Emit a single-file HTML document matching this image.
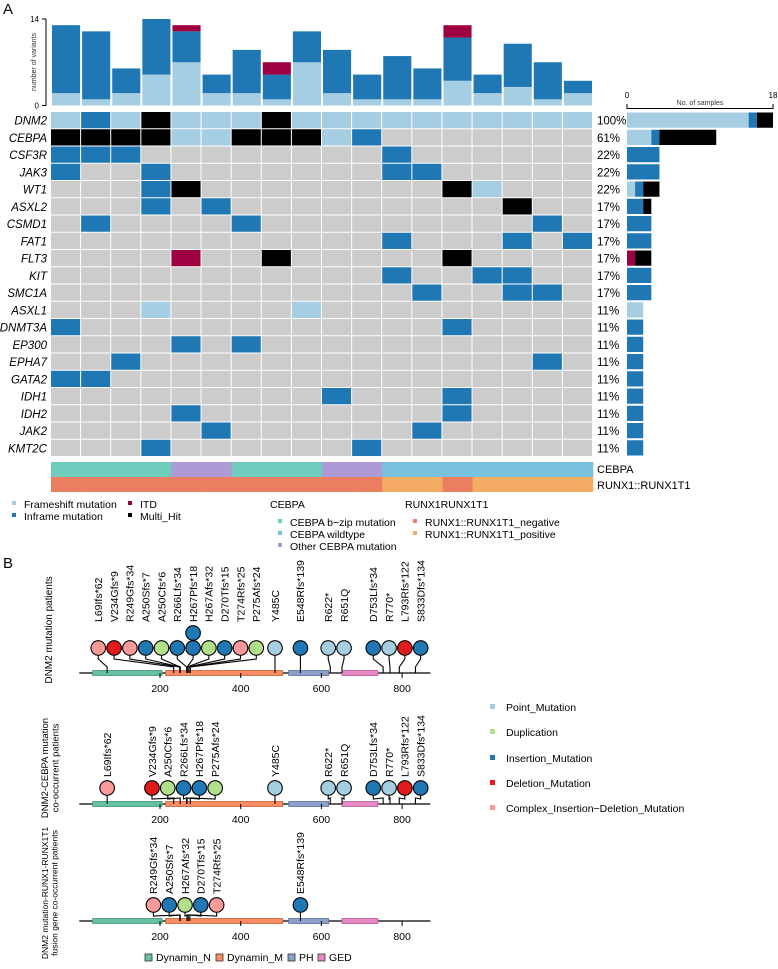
<!DOCTYPE html>
<html><head><meta charset="utf-8"><style>
html,body{margin:0;padding:0;background:#fff}
svg{display:block;font-family:"Liberation Sans",Arial,sans-serif}
</style></head><body>
<svg id="fig" width="778" height="969" viewBox="0 0 778 969" xmlns="http://www.w3.org/2000/svg">
<text x="3" y="14" font-size="15">A</text>
<text x="3" y="568" font-size="15">B</text>
<g id="topbars"></g>
<g id="grid"></g>
<g id="side"></g>
<g id="annot"></g>
<g id="legA"></g>
<g id="lolli"></g>
<g id="legB"></g>
</svg>
<script>
// ---- Oncoprint data ----
const genes = ["DNM2","CEBPA","CSF3R","JAK3","WT1","ASXL2","CSMD1","FAT1","FLT3","KIT","SMC1A","ASXL1","DNMT3A","EP300","EPHA7","GATA2","IDH1","IDH2","JAK2","KMT2C"];
// F=frameshift, I=inframe, T=ITD, M=multi_hit, .=none ; 18 samples
const gridRows = [
"FIFMFFFMFFFFFFFFFF",
"MMMMFFMMMFI.......",
"III........I......",
"I..I.......II.....",
"...IM........MF...",
"...I.I.........M..",
".I....I.........I.",
"...........I...I.I",
"....T..M.....M....",
"...........I..II..",
"............I..II.",
"...F....F.........",
"I............I....",
"....I.I...........",
"..I.............I.",
"II................",
".........I...I....",
"....I........I....",
".....I......I.....",
"...I......I......."
];
const topFrame =  [2,1,2,5,7,2,2,1,7,2,1,1,1,4,2,3,1,2];
const topInframe =[11,11,4,9,5,3,7,4,5,7,4,7,5,7,3,7,6,2];
const topITD =    [0,0,0,0,1,0,0,2,0,0,0,0,0,2,0,0,0,0];
const topTicks = [0,14];
const sideTicks = [0,18];
const cebpaAnnot = ["b","b","b","b","o","o","b","b","b","o","o","w","w","w","w","w","w","w"];
const runxAnnot =  ["n","n","n","n","n","n","n","n","n","n","n","p","p","n","p","p","p","p"];

// ---- Lollipop data ----
const mutLabels1 = ["L69Ifs*62","V234Gfs*9","R249Gfs*34","A250Sfs*7","A250Cfs*6","R266Lfs*34","H267Pfs*18","H267Afs*32","D270Tfs*15","T274Rfs*25","P275Afs*24","Y485C","E548Rfs*139","R622*","R651Q","D753Lfs*34","R770*","L793Rfs*122","S833Dfs*134"];
const mutPos1 = [69,234,249,250,250,266,267,267,270,274,275,485,548,622,651,753,770,793,833];
const mutType1 = ["C","D","C","I","U","I","I","U","I","C","U","P","I","P","P","I","P","D","I"];
const mutCount1 = [1,1,1,1,1,1,2,1,1,1,1,1,1,1,1,1,1,1,1];
const mutLabels2 = ["L69Ifs*62","V234Gfs*9","A250Cfs*6","R266Lfs*34","H267Pfs*18","P275Afs*24","Y485C","R622*","R651Q","D753Lfs*34","R770*","L793Rfs*122","S833Dfs*134"];
const mutPos2 = [69,234,250,266,267,275,485,622,651,753,770,793,833];
const mutType2 = ["C","D","U","I","I","U","P","P","P","I","P","D","I"];
const mutCount2 = [1,1,1,1,1,1,1,1,1,1,1,1,1];
const mutLabels3 = ["R249Gfs*34","A250Sfs*7","H267Afs*32","D270Tfs*15","T274Rfs*25","E548Rfs*139"];
const mutPos3 = [249,250,267,270,274,548];
const mutType3 = ["C","I","U","I","C","I"];
const mutCount3 = [1,1,1,1,1,1];
const domainNames = ["Dynamin_N","Dynamin_M","PH","GED"];
const domainStart = [33,214,519,651];
const domainEnd = [205,504,618,740];
const aaTicks = [200,400,600,800];
const proteinLength = 870;

const NS="http://www.w3.org/2000/svg";
function mk(parent,tag,attrs,text){const e=document.createElementNS(NS,tag);for(const k in attrs)e.setAttribute(k,attrs[k]);if(text!==undefined)e.textContent=text;parent.appendChild(e);return e;}
const COL={F:"#A6CEE3",I:"#1F78B4",T:"#9E0142",M:"#000000",".":"#CCCCCC"};
const LC={P:"#A6CEE3",U:"#B2DF8A",I:"#1F78B4",D:"#E31A1C",C:"#FB9A99"};

const X0=51, COLW=(593-51)/18, Y0=112, ROWH=17.25;
const colX=i=>X0+i*COLW;
const rowY=r=>Y0+r*ROWH;
const topY=v=>105.5-v*(86.5/14);
const sideX=v=>627+v*(146/18);

// top bars
const topG=document.getElementById('topbars');
let ax=mk(topG,'path',{d:`M46 ${topY(14)}V${topY(0)}M42 ${topY(14)}H46M42 ${topY(0)}H46`,stroke:'#000','stroke-width':1,fill:'none'});


topTicks.forEach(t=>{const e=mk(topG,'text',{x:39,y:topY(t)+3,'font-size':8,'text-anchor':'end'},String(t));

});
let yt=mk(topG,'text',{transform:'translate(36,62) rotate(-90)','font-size':7,'text-anchor':'middle',fill:'#333'},'number of variants');


for(let i=0;i<18;i++){
  let acc=0;
  [[topFrame[i],COL.F],[topInframe[i],COL.I],[topITD[i],COL.T]].forEach(([v,c])=>{
    if(v>0){const r=mk(topG,'rect',{x:colX(i)+1,y:topY(acc+v),width:COLW-2,height:topY(acc)-topY(acc+v),fill:c});
    
    }
    acc+=v;});
}
// grid
const gridG=document.getElementById('grid');
const sideG=document.getElementById('side');
genes.forEach((g,r)=>{
  const t=mk(gridG,'text',{x:47,y:rowY(r)+ROWH/2+4,'font-size':11.5,'font-style':'italic','text-anchor':'end'},g);
  
  
  const row=gridRows[r];const cnt={F:0,I:0,T:0,M:0};let n=0;
  for(let i=0;i<18;i++){const ch=row[i];
    const c=mk(gridG,'rect',{x:colX(i),y:rowY(r),width:COLW-1,height:ROWH-1,fill:COL[ch]});
    
    
    if(ch!=='.'){cnt[ch]++;n++;}}
  const p=mk(gridG,'text',{x:597,y:rowY(r)+ROWH/2+4,'font-size':11.5},Math.round(n/18*100)+'%');
  
  
  let acc=0;
  ['F','I','T','M'].forEach(k=>{if(cnt[k]>0){const b=mk(sideG,'rect',{x:sideX(acc),y:rowY(r)+0.5,width:sideX(acc+cnt[k])-sideX(acc),height:ROWH-2,fill:COL[k]});
    
    }acc+=cnt[k];});
});
let sa=mk(sideG,'path',{d:`M${sideX(0)} 104V108.5H${sideX(18)}V104`,stroke:'#000',fill:'none','stroke-width':1});


sideTicks.forEach(t=>{const e=mk(sideG,'text',{x:sideX(t),y:98,'font-size':8,'text-anchor':'middle'},String(t));

});
let st=mk(sideG,'text',{x:700,y:105,'font-size':7,'text-anchor':'middle',fill:'#333'},'No. of samples');


// annotations
const annotG=document.getElementById('annot');
const AC={b:"#70CDBE",o:"#AE9AD4",w:"#78C2DF",n:"#EC7E62",p:"#F4AB63"};
for(let i=0;i<18;i++){
  const a=mk(annotG,'rect',{x:colX(i),y:462,width:COLW+0.3,height:15,fill:AC[cebpaAnnot[i]]});
  
  
  const b=mk(annotG,'rect',{x:colX(i),y:477,width:COLW+0.3,height:15,fill:AC[runxAnnot[i]]});
  
  
}
let a1=mk(annotG,'text',{x:597,y:473,'font-size':11},'CEBPA');


let a2=mk(annotG,'text',{x:597,y:489,'font-size':11},'RUNX1::RUNX1T1');


// legend A
const legAG=document.getElementById('legA');
const legItems=[[12,508,COL.F,'Frameshift mutation'],[12,520,COL.I,'Inframe mutation'],[128,508,COL.T,'ITD'],[128,520,COL.M,'Multi_Hit'],
[278,526,AC.b,'CEBPA b\u2212zip mutation'],[278,538,AC.w,'CEBPA wildtype'],[278,550,AC.o,'Other CEBPA mutation'],
[413,526,AC.n,'RUNX1::RUNX1T1_negative'],[413,538,AC.p,'RUNX1::RUNX1T1_positive']];
legItems.forEach(([x,y,c,t])=>{const s=mk(legAG,'rect',{x:x,y:y-7,width:4,height:4,fill:c});


const tx=mk(legAG,'text',{x:x+12,y:y,'font-size':10.5},t);

});
let lt1=mk(legAG,'text',{x:270,y:508,'font-size':10.5},'CEBPA');


let lt2=mk(legAG,'text',{x:405,y:508,'font-size':10.5},'RUNX1RUNX1T1');



// ---- Lollipops ----
const aaX=aa=>79.3+aa*0.4035;
const lolliG=document.getElementById('lolli');
const DC=["#66C2A5","#FC8D62","#8DA0CB","#E78AC3"];
const DS=["#3f8f77","#c0603a","#5a6d98","#b05b91"];
function layout(pos,gap){
  const p=pos.map(aaX);
  for(let it=0;it<400;it++){for(let i=0;i<p.length-1;i++){const d=p[i+1]-p[i];if(d<gap){const s=(gap-d)/2;p[i]-=s;p[i+1]+=s;}}}
  return p;
}
function panel(labels,pos,types,counts,bb,cy,titleLines,titleY,titleSize){
  const g=mk(lolliG,'g',{});
  
  
  const tt=mk(g,'text',{transform:`translate(${titleLines.length>1?48:52},${titleY}) rotate(-90)`,'font-size':titleSize,'text-anchor':'middle'});
  
  
  titleLines.forEach((line,k)=>{mk(tt,'tspan',{x:0,y:k*(titleSize+1)},line);});
  const bl=mk(g,'line',{x1:aaX(0),x2:aaX(proteinLength),y1:bb,y2:bb,stroke:'#000','stroke-width':1.2});
  
  
  domainNames.forEach((d,i)=>{const r=mk(g,'rect',{x:aaX(domainStart[i]),y:bb-2.5,width:aaX(domainEnd[i])-aaX(domainStart[i]),height:5,fill:DC[i],stroke:DS[i],'stroke-width':0.8});
  
  });
  aaTicks.forEach(t=>{const l=mk(g,'line',{x1:aaX(t),x2:aaX(t),y1:bb,y2:bb+5,stroke:'#000'});
  
  
  const tx=mk(g,'text',{x:aaX(t),y:bb+19,'font-size':10.5,'text-anchor':'middle'},String(t));
  
  });
  const cx=layout(pos,15.8);
  const topCircle=cy-15*(Math.max(...counts)-1);
  labels.forEach((lab,i)=>{
    const x0=aaX(pos[i]),x=cx[i];
    const s=mk(g,'path',{d:`M${x} ${cy+7}V${cy+11}L${x0} ${bb-6}V${bb}`,stroke:'#000','stroke-width':1.1,fill:'none'});
    
    
    for(let k=0;k<counts[i];k++){const c=mk(g,'circle',{cx:x,cy:cy-k*15,r:7.3,fill:LC[types[i]],stroke:'#000','stroke-width':1.1});
      
      }
    const ly=topCircle-11;
    const t=mk(g,'text',{transform:`translate(${x+3.8},${ly}) rotate(-90)`,'font-size':10.5},lab);
    
    
  });
}
panel(mutLabels1,mutPos1,mutType1,mutCount1,673,648,["DNM2 mutation patients"],630,10);
panel(mutLabels2,mutPos2,mutType2,mutCount2,804,788,["DNM2-CEBPA mutation","co-occurrent patients"],768,9.5);
panel(mutLabels3,mutPos3,mutType3,mutCount3,921,905,["DNM2 mutation-RUNX1-RUNX1T1","fusion gene co-occurrent patients"],893,8.5);
// legends B
const legBG=document.getElementById('legB');
[[145,0],[216,1],[288,2],[318,3]].forEach(([x,i])=>{const r=mk(legBG,'rect',{x:x,y:954,width:7,height:7,fill:DC[i],stroke:'#333','stroke-width':0.8});


const t=mk(legBG,'text',{x:x+11,y:961,'font-size':10.5},domainNames[i]);

});
[["P","Point_Mutation",711],["U","Duplication",736],["I","Insertion_Mutation",762],["D","Deletion_Mutation",787],["C","Complex_Insertion\u2212Deletion_Mutation",812]].forEach(([k,t,y])=>{
const r=mk(legBG,'rect',{x:490,y:y-7,width:5,height:5,fill:LC[k]});


const tx=mk(legBG,'text',{x:506,y:y,'font-size':10.5},t);

});
</script>
</body></html>
